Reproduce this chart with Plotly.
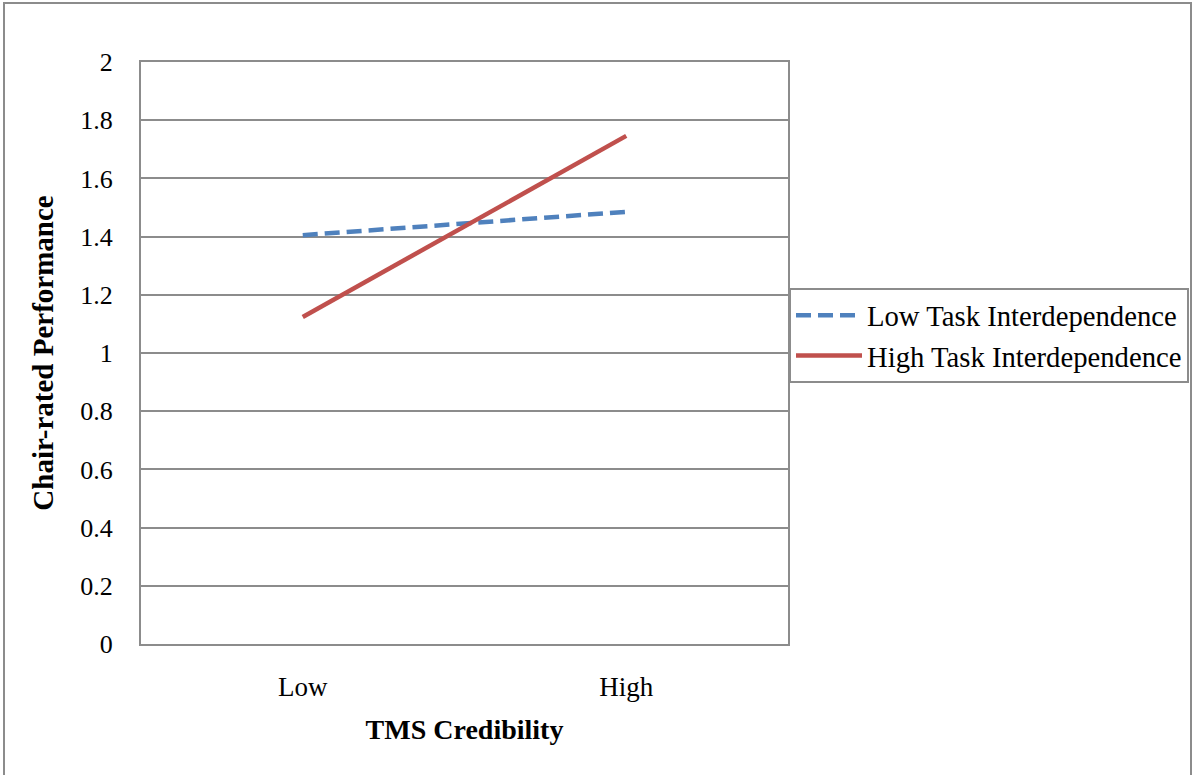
import plotly.graph_objects as go

categories = ["Low", "High"]
low_task = [1.405, 1.485]
high_task = [1.124, 1.746]
series_names = ["Low Task Interdependence", "High Task Interdependence"]
y_ticks = [0, 0.2, 0.4, 0.6, 0.8, 1, 1.2, 1.4, 1.6, 1.8, 2]
y_tick_text = ["0", "0.2", "0.4", "0.6", "0.8", "1", "1.2", "1.4", "1.6", "1.8", "2"]

FONT = "Liberation Serif, Times New Roman, serif"
GRID = "#8c8c8c"

fig = go.Figure()
fig.add_trace(go.Scatter(x=categories, y=low_task, mode="lines", name=series_names[0],
                         line=dict(color="#4F81BD", width=4.5, dash="15px,7px")))
fig.add_trace(go.Scatter(x=categories, y=high_task, mode="lines", name=series_names[1],
                         line=dict(color="#C0504D", width=4.5)))

L, R, T, B = 141, 788, 62, 644
W, H = 1197, 775
pw, ph = R - L, B - T

def px_x(p):
    return (p - L) / pw

def px_y(p):
    return (B - p) / ph

fig.update_layout(
    width=W, height=H,
    margin=dict(l=L, r=W - R, t=T, b=H - B, pad=0, autoexpand=False),
    paper_bgcolor="white", plot_bgcolor="white",
    font=dict(family=FONT, size=26, color="black"),
    showlegend=True,
    legend=dict(x=px_x(789), y=px_y(288), xanchor="left", yanchor="top",
                bordercolor=GRID, borderwidth=2, bgcolor="white",
                font=dict(family=FONT, size=28.7, color="black"),
                itemwidth=66, tracegroupgap=0),
    xaxis=dict(type="category", range=[-0.5, 1.5], showgrid=False,
               showline=True, linecolor=GRID, linewidth=2, mirror=True,
               ticks="", ticklabelstandoff=18, automargin=False,
               tickfont=dict(family=FONT, size=27, color="black"),
               title=dict(text="<b>TMS Credibility</b>", standoff=18,
                          font=dict(family=FONT, size=28, color="black"))),
    yaxis=dict(range=[0, 2], tickvals=y_ticks, ticktext=y_tick_text,
               showgrid=True, gridcolor=GRID, gridwidth=1.5,
               showline=True, linecolor=GRID, linewidth=2, mirror=True,
               zeroline=False, ticks="", ticklabelstandoff=21, automargin=False,
               tickfont=dict(family=FONT, size=26, color="black"),
               title=dict(text="<b>Chair-rated Performance</b>", standoff=18,
                          font=dict(family=FONT, size=29, color="black"))),
    shapes=[dict(type="rect", xref="paper", yref="paper",
                 x0=px_x(4), x1=px_x(1191), y0=px_y(790), y1=px_y(3),
                 line=dict(color=GRID, width=2), fillcolor="rgba(0,0,0,0)", layer="below")],
)

fig.write_html("out.html")
